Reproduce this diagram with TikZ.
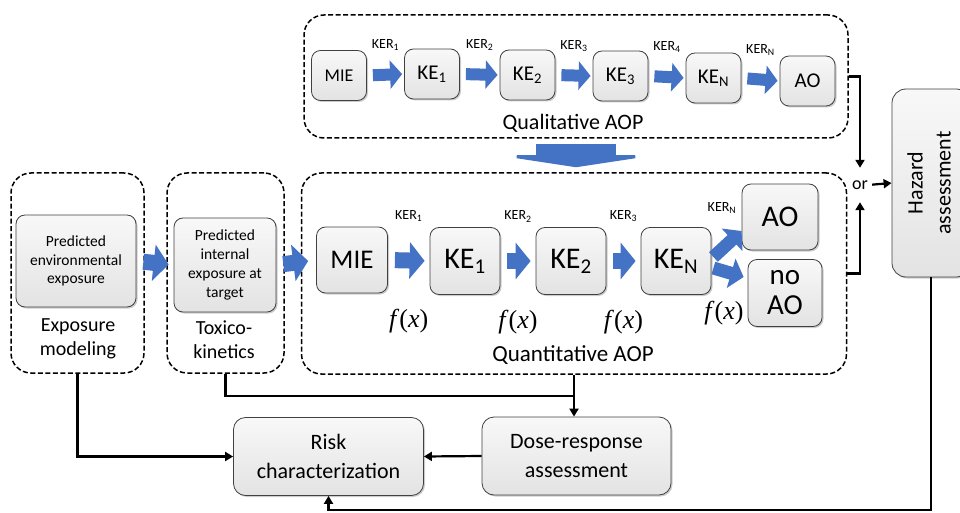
\documentclass[tikz,border=0pt]{standalone}
\usepackage{fontspec}
\setmainfont{Carlito}
\newfontfamily\fxfont{Liberation Serif}
\usetikzlibrary{arrows.meta,shadows,calc}
\definecolor{aopblue}{HTML}{4472C4}
\definecolor{boxtop}{HTML}{F8F8F8}
\definecolor{boxbot}{HTML}{E3E3E3}
\newcommand{\fx}{{\fxfont\itshape f\/\upshape(\itshape x\/\upshape)}}

\begin{document}
\begin{tikzpicture}[x=1pt,y=-1pt,
  box/.style={draw=black!75,line width=.8pt,rounded corners=9pt,top color=boxtop,bottom color=boxbot,
    drop shadow={shadow xshift=1.5pt,shadow yshift=-1.5pt,opacity=.4},align=center,inner sep=1pt},
  region/.style={draw,line width=1.5pt,dash pattern=on 5pt off 2.5pt,rounded corners=20pt},
  topflow/.style={aopblue,line width=12pt,-{Triangle[width=28pt,length=12pt]},shorten <=6pt,shorten >=2pt},
  quantflow/.style={aopblue,line width=16pt,-{Triangle[width=36pt,length=15pt]},shorten <=7pt,shorten >=5pt},
  link/.style={line width=2.2pt,-{Triangle[length=8pt,width=9pt]}},
  kerlab/.style={text=black,font=\fontsize{14}{16}\selectfont,inner sep=1pt},
  fxlab/.style={text=black,font=\fontsize{26}{30}\selectfont,inner sep=1pt}]
\clip (0,0) rectangle (960,513);
\node[region,minimum width=544pt,minimum height=123pt] (qual) at (576,76.5) {};
\node[region,minimum width=545pt,minimum height=201pt] (quant) at (574,273.5) {};
\node[region,minimum width=133pt,minimum height=200pt] (expo) at (77.5,273) {};
\node[region,minimum width=117pt,minimum height=200pt] (toxi) at (225.5,273) {};
\foreach \n/\x/\y/\t/\f in {0/339/75.5/MIE/18,1/432/74/KE\textsubscript{1}/21,2/527.5/75/KE\textsubscript{2}/21,
  3/620.5/76/KE\textsubscript{3}/21,4/713.5/78/KE\textsubscript{N}/21,5/807.5/81/AO/21}
  \node[box,minimum width=55pt,minimum height=50pt,font=\fontsize{\f}{\f}\selectfont] (t\n) at (\x,\y) {\t};
\foreach \a/\b/\k in {0/1/1,1/2/2,2/3/3,3/4/4,4/5/N}
  \draw[topflow] (t\a.east) -- node[kerlab,above=17pt] {KER\textsubscript{\k}} (t\b.west);
\node[font=\fontsize{22}{26}\selectfont] (quallab) at (573,123) {Qualitative AOP};
\draw[aopblue,line width=80pt,-{Triangle[width=158pt,length=12pt]},shorten <=5pt,shorten >=5pt]
  (qual.south) -- (qual.south |- quant.north);
\node[box,minimum width=120pt,minimum height=92pt,font=\fontsize{15.5}{18.5}\selectfont] (envexp) at (76,261)
  {Predicted\\environmental\\exposure};
\node[box,minimum width=102pt,minimum height=94pt,font=\fontsize{15.5}{19}\selectfont] (intexp) at (225,265)
  {Predicted\\internal\\exposure at\\target};
\node[font=\fontsize{20}{24}\selectfont,align=center] (expolab) at (78,339) {Exposure\\modeling};
\node[font=\fontsize{20}{24}\selectfont,align=center] (toxilab) at (224,340) {Toxico-\\kinetics};
\node[box,minimum width=71pt,minimum height=66pt,font=\fontsize{27}{30}\selectfont] (qmie) at (352,260) {MIE};
\node[box,minimum width=70pt,minimum height=67pt,font=\fontsize{30}{32}\selectfont] (qke1) at (465,261) {KE\textsubscript{1}};
\node[box,minimum width=70pt,minimum height=67pt,font=\fontsize{30}{32}\selectfont] (qke2) at (571,261) {KE\textsubscript{2}};
\node[box,minimum width=70pt,minimum height=67pt,font=\fontsize{30}{32}\selectfont] (qken) at (676,261) {KE\textsubscript{N}};
\node[box,minimum width=76pt,minimum height=66pt,font=\fontsize{30}{32}\selectfont] (qao) at (780,217) {AO};
\node[box,minimum width=74pt,minimum height=67pt,font=\fontsize{29}{30}\selectfont] (qnoao) at (785,293) {no\\AO};
\draw[quantflow] (envexp.east) -- (intexp.west);
\draw[quantflow,shorten >=8pt] (intexp.east) -- (qmie.west);
\draw[quantflow] (qmie.east) -- node[kerlab,above=30pt] {KER\textsubscript{1}} node[fxlab,below=40pt] {\fx} (qke1.west);
\draw[quantflow] (qke1.east) -- node[kerlab,above=30pt] {KER\textsubscript{2}} node[fxlab,below=40pt] {\fx} (qke2.west);
\draw[quantflow] (qke2.east) -- node[kerlab,above=30pt] {KER\textsubscript{3}} node[fxlab,below=40pt] {\fx} (qken.west);
\draw[quantflow,line width=13pt,-{Triangle[width=30pt,length=13pt]},shorten <=0pt,shorten >=0pt]
  ($(qken.east)+(2,-4)$) -- ($(qao.west)+(0,14)$);
\draw[quantflow,line width=13pt,-{Triangle[width=30pt,length=13pt]},shorten <=0pt,shorten >=0pt]
  ($(qken.east)+(2,7)$) -- ($(qnoao.west)+(-4,-16)$);
\node[kerlab] (kern) at (722,208) {KER\textsubscript{N}};
\node[fxlab] (fxn) at (724,313) {\fx};
\node[font=\fontsize{23}{26}\selectfont] (quantlab) at (573,355) {Quantitative AOP};
\node[box,rounded corners=14pt,minimum width=78pt,minimum height=188pt,font=\fontsize{22}{28}\selectfont] (haz) at (931,183)
  {\rotatebox{90}{\begin{tabular}{@{}c@{}}Hazard\\assessment\end{tabular}}};
\node[font=\fontsize{18}{20}\selectfont,minimum height=34pt,inner sep=0pt] (or) at (860,185) {or};
\draw[link] (qual.east) -| (or.north);
\draw[link] (quant.east) -| (or.south);
\draw[link,shorten <=4pt] (or.east) -- (haz.west);
\node[box,rounded corners=12pt,minimum width=190pt,minimum height=78pt,font=\fontsize{22}{29}\selectfont] (risk) at (328.5,456.5)
  {Risk\\characterization};
\node[box,rounded corners=12pt,minimum width=189pt,minimum height=78pt,font=\fontsize{22}{29}\selectfont] (dose) at (576.5,456)
  {Dose-response\\assessment};
\draw[link] (expo.south) |- (risk.west);
\draw[line width=2.2pt] (toxi.south) |- ($(quant.south)!.5!(quant.south |- dose.north)$);
\draw[link] (quant.south) -- (quant.south |- dose.north);
\draw[link] (dose.west) -- (risk.east);
\draw[link] (haz.south) -- (haz.south |- 0,510) -| (risk.south);
\end{tikzpicture}
\end{document}
